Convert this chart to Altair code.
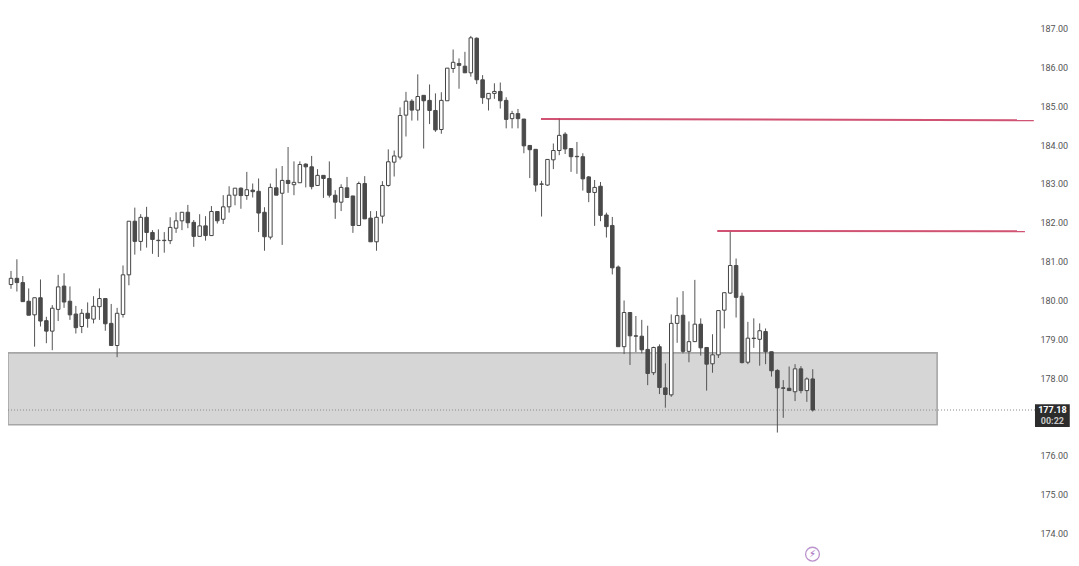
import altair as alt
import pandas as pd

opens = [
 180.41,180.57,180.46,179.98,179.63,180.07,179.48,179.21,179.77,180.37,
 179.98,179.65,179.33,179.67,179.52,179.84,180.05,179.41,178.84,179.64,
 180.66,182.04,181.52,182.14,181.75,181.55,181.55,181.54,181.86,182.05,
 182.27,182.01,181.65,181.92,181.67,182.29,182.09,182.41,182.71,182.89,
 182.70,182.84,182.81,182.27,181.63,182.90,182.76,183.09,182.98,183.03,
 183.51,183.44,182.96,183.22,183.14,182.71,182.53,182.90,182.69,181.93,
 183.01,182.12,181.51,182.17,182.96,183.56,183.69,184.77,185.13,184.90,
 185.28,185.15,184.89,184.40,185.14,185.97,186.10,186.03,185.86,186.75,
 185.68,185.19,185.33,185.38,185.15,184.68,184.81,184.67,183.99,183.89,
 183.00,182.97,183.62,183.86,184.28,183.91,183.71,183.70,183.18,182.78,
 182.94,182.20,181.93,180.86,178.81,179.69,179.09,179.08,178.74,178.14,
 178.81,177.75,177.57,179.41,179.62,178.69,178.94,179.39,178.79,178.37,
 178.60,179.75,180.19,180.90,180.11,178.41,179.03,179.00,179.20,178.68,
 178.20,177.75,177.74,177.65,178.24,177.68,177.98]
closes = [
 180.57,180.46,179.97,179.62,180.07,179.47,179.21,179.80,180.35,179.96,
 179.63,179.30,179.67,179.54,179.85,180.05,179.40,178.84,179.67,180.66,
 182.04,181.52,182.14,181.75,181.57,181.54,181.54,181.88,182.05,182.27,
 182.00,181.65,181.92,181.67,182.29,182.05,182.41,182.71,182.89,182.70,
 182.85,182.80,182.25,181.64,182.91,182.71,183.09,183.01,183.04,183.50,
 183.44,182.93,183.22,183.14,182.71,182.53,182.91,182.65,181.93,183.01,
 182.10,181.51,182.14,182.96,183.57,183.72,184.76,185.13,184.90,185.25,
 185.14,184.89,184.39,185.15,185.98,186.13,186.05,185.86,186.76,185.68,
 185.22,185.33,185.38,185.14,184.66,184.81,184.68,183.98,183.88,182.97,
 182.99,183.63,183.86,184.25,183.90,183.70,183.70,183.13,182.78,182.91,
 182.19,181.90,180.84,178.81,179.69,179.09,179.08,178.73,178.12,178.79,
 177.76,177.58,179.41,179.61,178.69,178.94,179.39,178.78,178.36,178.60,
 179.74,180.20,180.90,180.08,178.40,179.03,179.02,179.22,178.68,178.19,
 177.75,177.74,177.68,178.24,177.68,177.98,177.18]
highs = [
 180.76,181.06,180.63,180.31,180.07,180.54,179.58,179.88,180.66,180.70,
 180.36,179.86,179.78,179.95,180.11,180.31,180.05,179.91,179.81,180.90,
 182.04,182.39,182.22,182.41,181.81,181.83,181.76,182.14,182.27,182.27,
 182.46,182.07,182.22,182.17,182.43,182.29,182.71,182.94,182.89,182.91,
 183.31,183.01,183.14,182.40,183.01,183.40,183.46,183.95,183.58,183.58,
 183.53,183.72,183.38,183.22,183.58,182.84,182.99,183.18,182.69,183.06,
 183.20,182.30,182.30,183.07,183.89,183.86,184.97,185.37,185.18,185.82,
 185.28,185.56,185.33,185.36,185.98,186.46,186.23,186.40,186.81,186.77,
 185.80,185.33,185.59,185.61,185.23,184.88,184.93,184.67,183.99,183.89,
 183.08,183.63,184.04,184.69,184.33,183.91,184.08,183.79,183.20,183.10,
 183.05,182.26,182.15,180.90,180.00,179.70,179.60,179.50,179.35,178.81,
 178.87,178.38,179.64,180.08,180.24,179.46,180.53,179.54,178.79,179.13,
 179.74,180.20,181.77,181.08,180.20,179.45,179.54,179.41,179.28,178.68,
 178.23,177.95,178.30,178.36,178.31,178.02,178.23]
lows = [
 180.30,180.23,179.97,179.62,178.81,179.33,178.90,178.72,179.47,179.81,
 179.50,179.15,179.16,179.30,179.41,179.50,179.22,178.84,178.54,179.56,
 180.39,181.18,181.28,181.36,181.20,181.12,181.23,181.45,181.74,181.81,
 181.86,181.38,181.64,181.54,181.67,181.98,181.97,182.26,182.45,182.36,
 182.59,182.65,181.76,181.28,181.57,182.71,181.43,182.77,182.71,183.03,
 182.91,182.86,182.96,182.64,182.65,182.10,182.30,182.65,181.74,181.93,
 182.10,181.51,181.28,181.98,182.93,183.19,183.63,184.22,184.63,184.63,
 183.91,184.54,184.34,184.29,185.14,185.86,185.45,185.86,185.76,185.57,
 185.06,184.89,185.19,184.94,184.43,184.43,184.43,183.79,183.15,182.80,
 182.16,182.95,183.38,183.74,183.77,183.31,183.26,182.83,182.53,181.92,
 182.04,181.62,180.67,178.81,178.62,178.34,178.67,178.64,177.82,178.08,
 177.59,177.24,177.52,178.91,178.64,178.41,178.94,178.58,177.68,178.14,
 178.52,179.28,180.17,179.56,178.38,178.36,178.78,178.32,178.36,178.04,
 176.60,176.98,177.68,177.41,177.61,177.39,177.14]

price_ticks = [174, 175, 176, 178, 179, 180, 181, 182, 183, 184, 185, 186, 187]
last_price = 177.18
countdown = "00:22"

X_DOM = [-0.509, 179.81]
Y_DOM = [173.268, 187.528]
x_s = alt.Scale(domain=X_DOM, nice=False, zero=False, padding=0)
y_s = alt.Scale(domain=Y_DOM, nice=False, zero=False)
X = alt.X("x:Q", scale=x_s, axis=None)
Y = alt.Y("y:Q", scale=y_s, axis=None)

df = pd.DataFrame({"x": range(len(opens)), "o": opens, "h": highs, "l": lows, "c": closes})

# Supply/demand zone
zone = alt.Chart(pd.DataFrame([{"x": -0.509, "x2": 157.1, "y": 176.80, "y2": 178.65}])).mark_rect(
    fill="#d6d6d6", stroke="#a6a6a6", strokeWidth=1.6
).encode(X, x2="x2:Q", y=Y, y2="y2:Q")

# Last-price dotted line
dotted = alt.Chart(pd.DataFrame([{"x": -0.509, "x2": 173.7, "y": last_price}])).mark_rule(
    color="#8a8a8a", strokeWidth=1, strokeDash=[1, 2]
).encode(X, x2="x2:Q", y=Y)

# Resistance lines
levels = alt.Chart(pd.DataFrame([
    {"x": 89.9, "x2": 173.5, "y": 184.67, "y2": 184.64},
    {"x": 119.8, "x2": 172.0, "y": 181.79, "y2": 181.78},
])).mark_rule(color="#c9355a", strokeWidth=2, opacity=0.85).encode(X, x2="x2:Q", y=Y, y2="y2:Q")

wicks = alt.Chart(df).mark_rule(color="#555555", strokeWidth=1).encode(
    alt.X("x:Q", scale=x_s, axis=None),
    alt.Y("l:Q", scale=y_s, axis=None),
    y2="h:Q",
)
up = alt.Chart(df[df.c > df.o]).mark_bar(size=3.5, fill="#ffffff", stroke="#444444", strokeWidth=1).encode(
    alt.X("x:Q", scale=x_s, axis=None),
    alt.Y("o:Q", scale=y_s, axis=None),
    y2="c:Q",
)
down = alt.Chart(df[df.c <= df.o]).mark_bar(size=3.5, fill="#4a4a4a", stroke="#4a4a4a", strokeWidth=1).encode(
    alt.X("x:Q", scale=x_s, axis=None),
    alt.Y("o:Q", scale=y_s, axis=None),
    y2="c:Q",
)

# Price axis on the right
axis_df = pd.DataFrame({"y": price_ticks})
axis_layer = alt.Chart(axis_df).mark_point(opacity=0).encode(
    x=alt.value(0),
    y=alt.Y("y:Q", scale=y_s, axis=alt.Axis(
        orient="right", offset=-31, values=price_ticks, format=".2f", domain=False, ticks=False,
        grid=False, labelFont="Roboto", labelFontSize=9, labelColor="#555555", labelPadding=0,
        title=None, labelAlign="left",
    )),
)

# Price label box
box = alt.Chart(pd.DataFrame([{"x": 173.7, "x2": 179.6, "y": 176.74, "y2": 177.33}])).mark_rect(
    fill="#2c2c2c"
).encode(X, x2="x2:Q", y=Y, y2="y2:Q")
box_text = alt.Chart(pd.DataFrame([
    {"x": 176.65, "y": last_price, "t": f"{last_price:.2f}", "col": "#ffffff"},
    {"x": 176.65, "y": 176.90, "t": countdown, "col": "#c8c8c8"},
])).mark_text(font="Roboto", fontSize=9, fontWeight="bold", align="center", baseline="middle").encode(
    X, Y, text="t:N", color=alt.Color("col:N", scale=None)
)

# Lightning badge
badge = alt.Chart(pd.DataFrame([{"x": 135.96, "y": 173.47}])).mark_point(
    shape="circle", size=190, stroke="#a066b8", strokeWidth=1.3, filled=False
).encode(X, Y)
bolt = alt.Chart(pd.DataFrame([{"x": 135.96, "y": 173.47, "t": "\u26a1"}])).mark_text(
    font="DejaVu Sans", fontSize=10, color="#a066b8", align="center", baseline="middle"
).encode(X, Y, text="t:N")

chart = alt.layer(
    zone, dotted, wicks, up, down, levels, axis_layer, box, box_text, badge, bolt
).resolve_axis(y="independent").properties(
    width=1063, height=554, padding=0, autosize=alt.AutoSizeParams(type="none"),
    background="#ffffff"
).configure_view(stroke=None)

chart.save("out.html", embed_options={"renderer": "svg", "actions": False})
